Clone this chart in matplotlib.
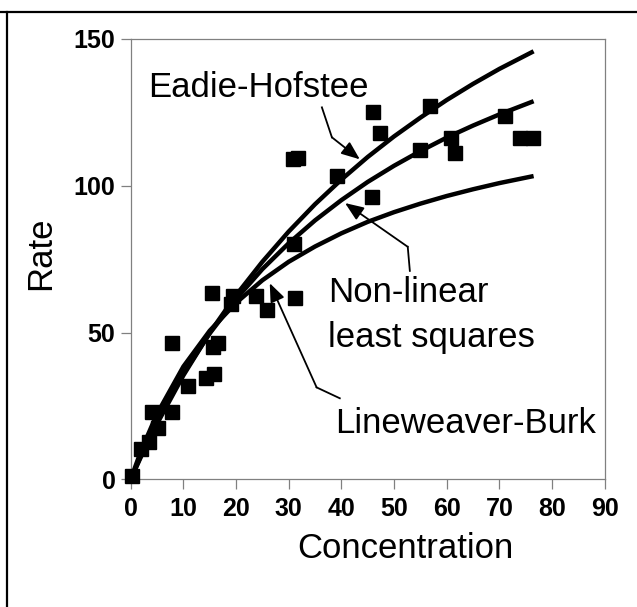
import matplotlib
matplotlib.use("Agg")
import matplotlib.pyplot as plt
from matplotlib.lines import Line2D

plt.rcParams['font.family'] = ['Liberation Sans', 'DejaVu Sans']

# measured points
conc = [0.2, 1.9, 3.5, 4.0, 5.1, 7.8, 7.8, 10.9, 14.3, 15.9, 15.5, 15.6, 16.6,
        19.0, 19.5, 23.7, 25.9, 31.0, 31.2, 30.9, 31.7, 39.2, 46.0, 47.3,
        45.9, 54.9, 56.9, 60.9, 61.5, 71.0, 73.9, 76.4]
rate = [1.1, 10.2, 12.8, 23.0, 17.6, 23.0, 46.3, 31.9, 34.4, 35.9, 63.6, 45.0, 46.3,
        59.6, 62.5, 62.5, 57.7, 80.2, 61.7, 109.1, 109.6, 103.3, 125.0, 117.9,
        96.3, 112.2, 127.3, 116.2, 111.1, 123.9, 116.2, 116.2]

# fitted curves
curve_x = [0, 2, 5, 10, 15, 20, 25, 30, 35, 40, 45, 50, 55, 60, 65, 70, 76.5]
eadie = [0, 7.9, 18.9, 35.4, 49.9, 62.7, 74.1, 84.4, 93.7, 102.1, 109.8,
         116.8, 123.2, 129.2, 134.7, 139.8, 145.8]
nonlin = [0, 8.3, 19.7, 36.0, 49.7, 61.4, 71.6, 80.4, 88.2, 95.1, 101.3,
          106.8, 111.8, 116.4, 120.5, 124.3, 128.8]
lineweaver = [0, 9.9, 22.3, 38.4, 50.6, 60.1, 67.8, 74.1, 79.3, 83.8, 87.7,
              91.0, 93.9, 96.5, 98.8, 100.9, 103.3]

x_ticks = [0, 10, 20, 30, 40, 50, 60, 70, 80, 90]
y_ticks = [0, 50, 100, 150]

fig = plt.figure(figsize=(6.37, 6.07), dpi=100)
ax = fig.add_axes([0.2052, 0.2104, 0.7441, 0.7254])

for ys in (eadie, nonlin, lineweaver):
    ax.plot(curve_x, ys, color='black', lw=3.2, solid_capstyle='butt', zorder=2)
ax.plot(conc, rate, 's', color='black', ms=9.5, zorder=3, clip_on=False)

ax.set_xlim(0, 90)
ax.set_ylim(0, 150)
ax.set_xticks(x_ticks)
ax.set_yticks(y_ticks)
for s in ax.spines.values():
    s.set_color('#808080')
    s.set_linewidth(0.9)
ax.tick_params(axis='both', direction='out', length=7, width=0.9, color='#808080',
               labelsize=18)
ax.tick_params(axis='x', pad=6)
ax.tick_params(axis='y', pad=4)
for lab in ax.get_xticklabels() + ax.get_yticklabels():
    lab.set_fontweight('bold')

# callouts
fs = 25
ax.text(3.3, 130.4, 'Eadie-Hofstee', fontsize=fs, va='baseline', ha='left')
ax.text(37.5, 60.5, 'Non-linear', fontsize=fs, va='baseline', ha='left')
ax.text(37.5, 45.2, 'least squares', fontsize=fs, va='baseline', ha='left')
ax.text(38.8, 15.9, 'Lineweaver-Burk', fontsize=fs, va='baseline', ha='left')

arrows = [
    [(36.3, 126.7), (38.2, 116.5), (43.5, 109.0)],
    [(53.0, 71.0), (52.6, 79.2), (40.7, 94.1)],
    [(39.7, 27.6), (35.3, 31.3), (26.4, 66.8)],
]
arrow_style = dict(arrowstyle='-|>,head_length=0.75,head_width=0.3', color='black',
                   lw=1.3, mutation_scale=15, shrinkA=0, shrinkB=0)
for start, knee, tip in arrows:
    ax.plot([start[0], knee[0]], [start[1], knee[1]], color='black', lw=1.3, zorder=4)
    ax.annotate('', xy=tip, xytext=knee, arrowprops=arrow_style, zorder=4)

fig.text(40.5 / 637, 1 - 253 / 607, 'Rate', fontsize=fs, rotation=90,
         ha='center', va='center')
fig.text(405 / 637, 1 - 558 / 607, 'Concentration', fontsize=fs,
         ha='center', va='baseline')

# outer frame lines
top_y = 1 - 12 / 607
left_x = 7.3 / 637
fig.add_artist(Line2D([0, 1], [top_y, top_y], color='black', lw=1.6))
fig.add_artist(Line2D([left_x, left_x], [0, top_y], color='black', lw=1.6))

fig.savefig('out.png', dpi=100)
